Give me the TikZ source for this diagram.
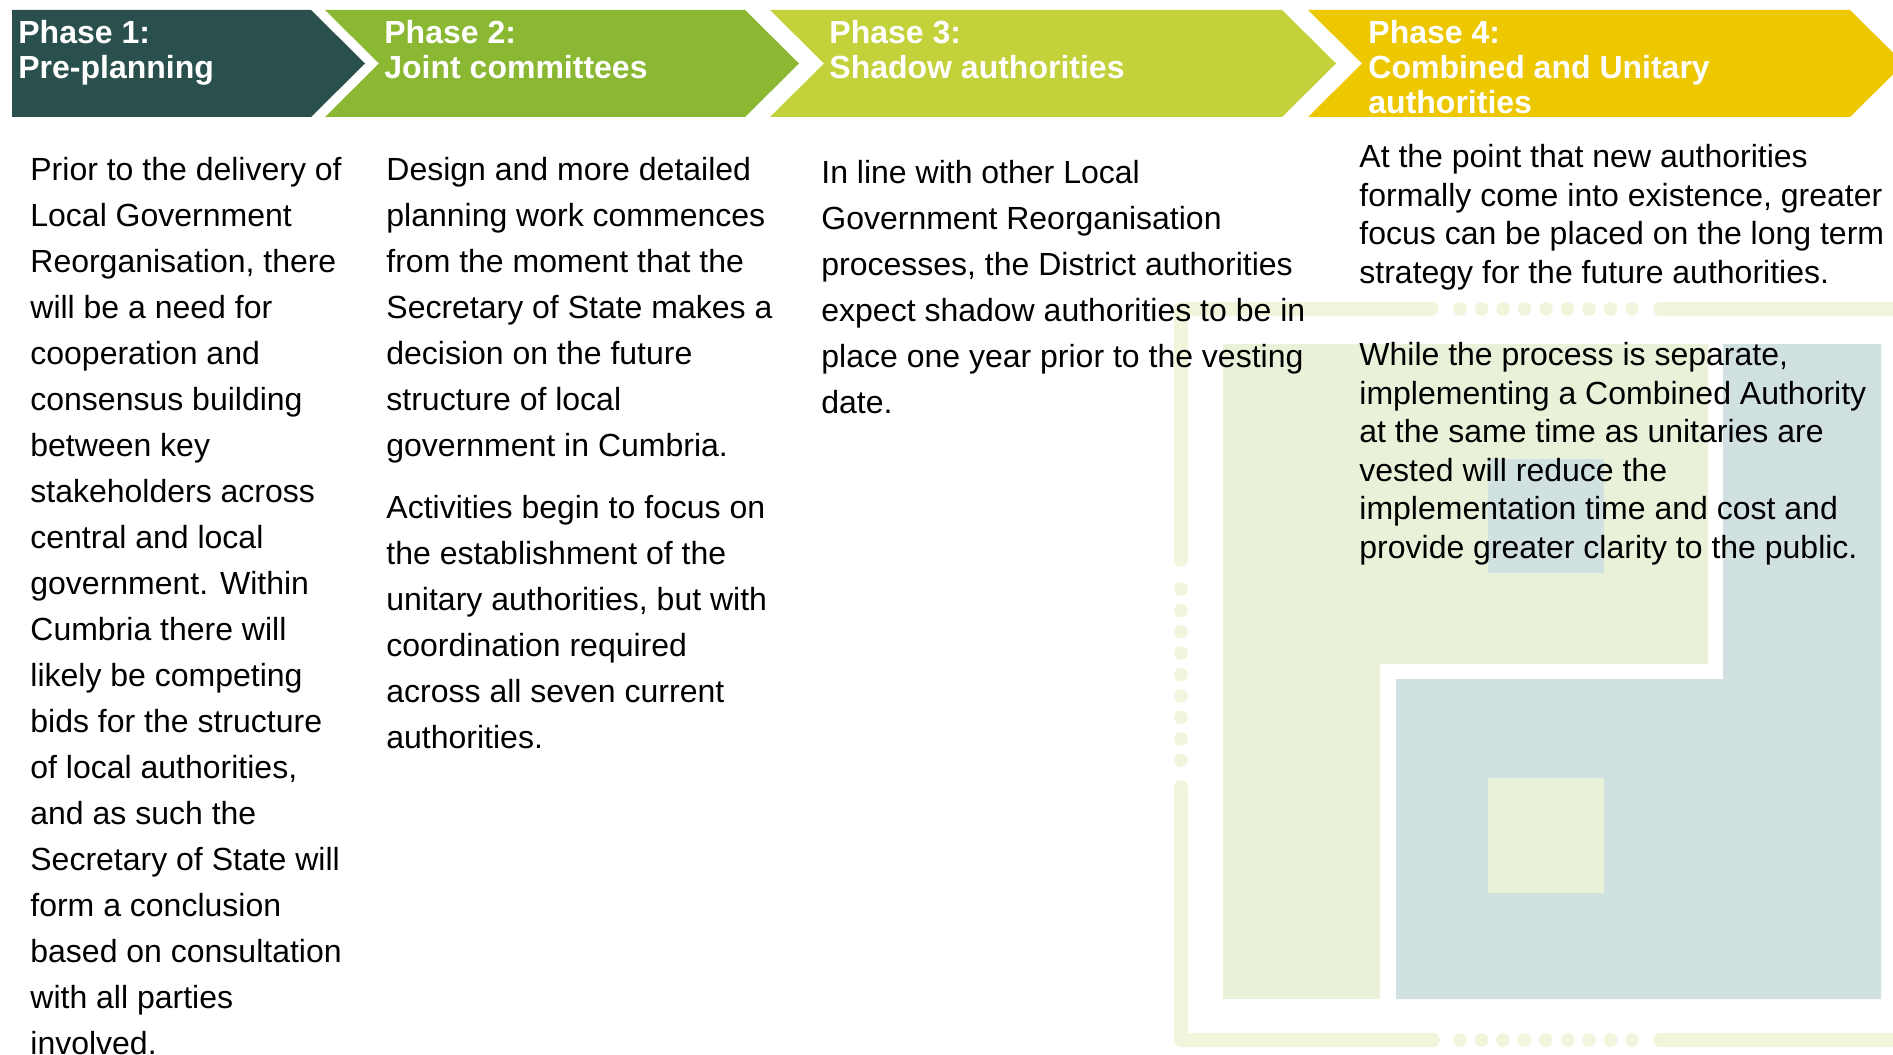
\documentclass[tikz,border=0pt]{standalone}
\usepackage{fontspec}
\setmainfont{Liberation Sans}
\definecolor{pone}{HTML}{2A504D}
\definecolor{ptwo}{HTML}{8AB833}
\definecolor{pthree}{HTML}{C3D13B}
\definecolor{pfour}{HTML}{EDC700}
\definecolor{decogreen}{HTML}{E9F1D9}
\definecolor{decoblue}{HTML}{D1E0E0}
\definecolor{decoframe}{HTML}{F2F5DB}
\newcommand\colbody[2]{\parbox[t]{16cm}{\fontsize{16}{#1}\selectfont #2}}
\newcommand\hdrtext[1]{\parbox[t]{12cm}{\bfseries\fontsize{16}{17.4}\selectfont #1}}
\begin{document}
\begin{tikzpicture}[x=0.5pt,y=-0.5pt,
  hdr/.style={anchor=base west,inner sep=0,text=white},
  txt/.style={anchor=base west,inner sep=0,text=black},
  frameline/.style={draw=decoframe,line width=6.75pt,line cap=round,line join=round},
  framedot/.style={fill=decoframe}]
\useasboundingbox[fill=white] (0,0) rectangle (1893,1054);
% ---------- background decoration ----------
\fill[decogreen] (1223,344) -- (1708,344) -- (1708,664) -- (1380,664) -- (1380,999) -- (1223,999) -- cycle;
\fill[decoblue] (1723,344) -- (1881,344) -- (1881,999) -- (1396,999) -- (1396,679) -- (1723,679) -- cycle;
\fill[decoblue] (1488,459) rectangle (1604,573);
\fill[decogreen] (1488,778) rectangle (1604,893);
% frame lines
\draw[frameline] (1181,560) -- (1181,309) -- (1432,309);
\draw[frameline] (1660,309) -- (1910,309);
\draw[frameline] (1181,787) -- (1181,1040) -- (1433,1040);
\draw[frameline] (1660,1040) -- (1910,1040);
\foreach \k in {0,...,8}{
  \fill[framedot] (1460+\k*21.5,309) circle [radius=3.4pt];
  \fill[framedot] (1460+\k*21.5,1040) circle [radius=3.4pt];
  \fill[framedot] (1181,589+\k*21.4) circle [radius=3.4pt];
}
% ---------- header chevrons ----------
\fill[pone] (12,10) -- (311,10) -- (365,63.5) -- (311,117) -- (12,117) -- cycle;
\fill[ptwo] (325,10) -- (745,10) -- (799,63.5) -- (745,117) -- (325,117) -- (379,63.5) -- cycle;
\fill[pthree] (770,10) -- (1282,10) -- (1336,63.5) -- (1282,117) -- (770,117) -- (824,63.5) -- cycle;
\fill[pfour] (1308,10) -- (1850,10) -- (1904,63.5) -- (1850,117) -- (1308,117) -- (1362,63.5) -- cycle;
\node[hdr] (h1) at (18,43.5) {\hdrtext{Phase 1:\\Pre-planning}};
\node[hdr] (h2) at (384,43.5) {\hdrtext{Phase 2:\\Joint committees}};
\node[hdr] (h3) at (829,43.5) {\hdrtext{Phase 3:\\Shadow authorities}};
\node[hdr] (h4) at (1368,43.5) {\hdrtext{Phase 4:\\Combined and Unitary\\authorities}};
% ---------- body text ----------
\node[txt] (c1) at (30,180.5) {\colbody{23}{Prior to the delivery of\\Local Government\\Reorganisation, there\\will be a need for\\cooperation and\\consensus building\\between key\\stakeholders across\\central and local\\government. Within\\Cumbria there will\\likely be competing\\bids for the structure\\of local authorities,\\and as such the\\Secretary of State will\\form a conclusion\\based on consultation\\with all parties\\involved.}};
\node[txt] (c2a) at (386,180.5) {\colbody{23}{Design and more detailed\\planning work commences\\from the moment that the\\Secretary of State makes a\\decision on the future\\structure of local\\government in Cumbria.}};
\node[txt] (c2b) at (386,518.5) {\colbody{23}{Activities begin to focus on\\the establishment of the\\unitary authorities, but with\\coordination required\\across all seven current\\authorities.}};
\node[txt] (c3) at (821,183.5) {\colbody{23}{In line with other Local\\Government Reorganisation\\processes, the District authorities\\expect shadow authorities to be in\\place one year prior to the vesting\\date.}};
\node[txt] (c4a) at (1359,167.5) {\colbody{19.25}{At the point that new authorities\\formally come into existence, greater\\focus can be placed on the long term\\strategy for the future authorities.}};
\node[txt] (c4b) at (1359,365.5) {\colbody{19.25}{While the process is separate,\\implementing a Combined Authority\\at the same time as unitaries are\\vested will reduce the\\implementation time and cost and\\provide greater clarity to the public.}};
\end{tikzpicture}
\end{document}
